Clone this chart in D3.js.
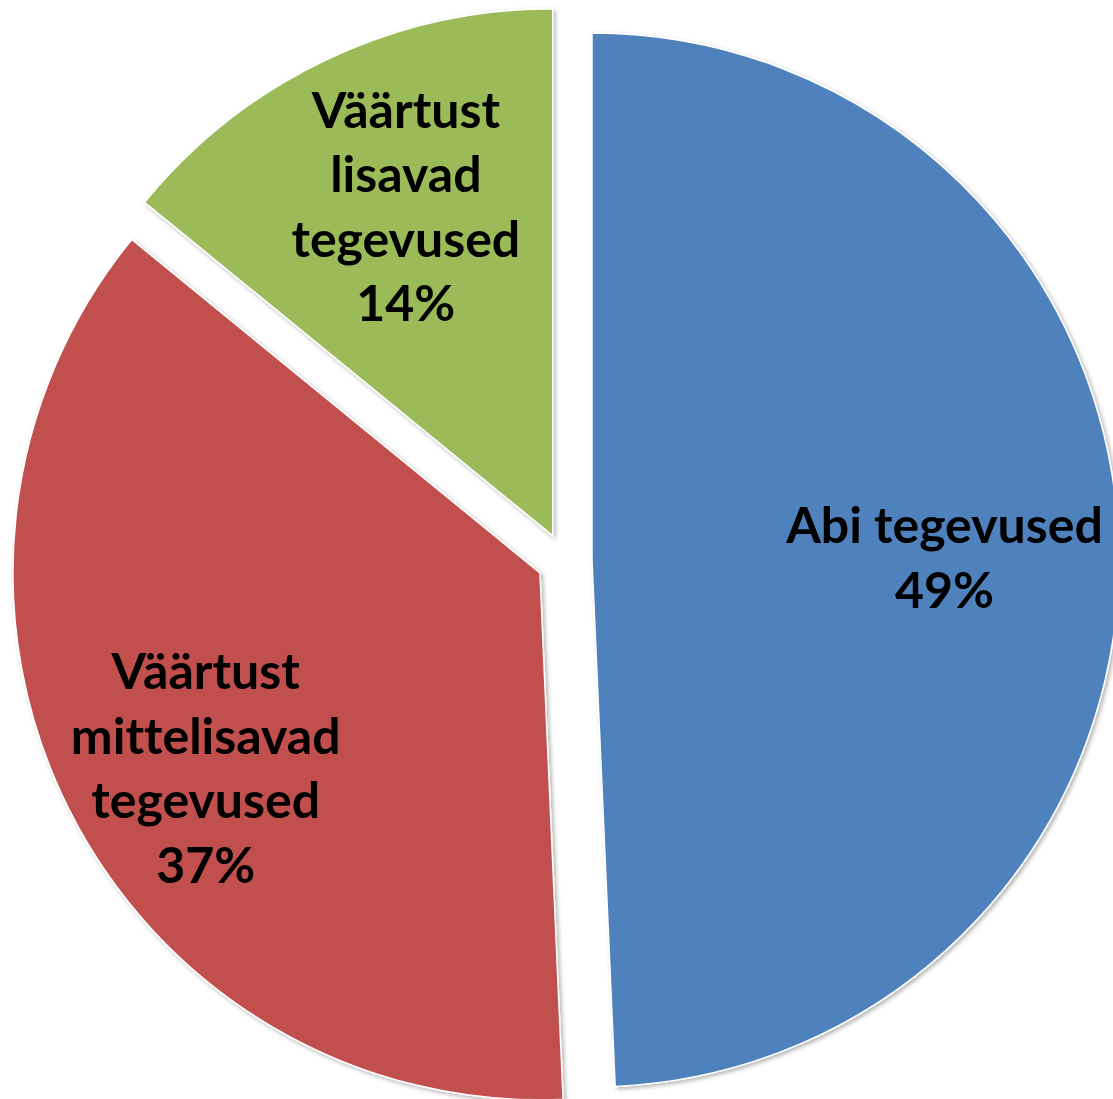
<!DOCTYPE html>
<html>
<head>
<meta charset="utf-8">
<script src="https://cdn.jsdelivr.net/npm/d3@7"></script>
<style>
  html, body { margin: 0; padding: 0; background: #ffffff; }
  svg { display: block; }
  text { font-variant-ligatures: none; font-feature-settings: "liga" 0, "clig" 0; }
</style>
</head>
<body>
<svg id="chart" width="1113" height="1099"></svg>
<script>
// ---- data ----
const categories = ["Abi tegevused", "Väärtust mittelisavad tegevused", "Väärtust lisavad tegevused"];
const values = [49.3, 36.6, 14.1];
const percentLabels = ["49%", "37%", "14%"];
const nameLines = [
  ["Abi tegevused"],
  ["Väärtust", "mittelisavad", "tegevused"],
  ["Väärtust", "lisavad", "tegevused"]
];
const colors = ["#4F81BD", "#C0504D", "#9BBB59"];

// ---- layout ----
const W = 1113, H = 1099;
const cx = 564.5, cy = 560.5, R = 527, explode = 27.5;
const labelFactor = [0.669, 0.735, 0.69];
const labelNudge = [[0, 6], [12, 22], [9, 0]];
const fontSize = 50, lineH = 64.5;

const svg = d3.select("#chart");
const defs = svg.append("defs");
const f = defs.append("filter").attr("id", "shadow")
  .attr("x", "-10%").attr("y", "-10%").attr("width", "120%").attr("height", "120%");
f.append("feDropShadow").attr("dx", 2).attr("dy", 2).attr("stdDeviation", 2)
  .attr("flood-color", "#000").attr("flood-opacity", 0.3);

const pie = d3.pie().sort(null).value(d => d).startAngle(0).endAngle(2 * Math.PI);
const arcs = pie(values);
const arc = d3.arc().innerRadius(0).outerRadius(R);

const g = svg.append("g").attr("transform", `translate(${cx},${cy})`);

const slices = g.selectAll("g.slice").data(arcs).enter().append("g")
  .attr("class", "slice")
  .attr("transform", d => {
    const a = (d.startAngle + d.endAngle) / 2;
    return `translate(${explode * Math.sin(a)},${-explode * Math.cos(a)})`;
  });

slices.append("path")
  .attr("d", arc)
  .attr("fill", (d, i) => colors[i])
  .attr("stroke", "#ffffff")
  .attr("stroke-width", 1.5)
  .attr("stroke-linejoin", "miter")
  .attr("filter", "url(#shadow)");

slices.each(function(d, i) {
  const a = (d.startAngle + d.endAngle) / 2;
  const r = R * labelFactor[i];
  const x = r * Math.sin(a) + labelNudge[i][0];
  const y = -r * Math.cos(a) + labelNudge[i][1];
  const lines = nameLines[i].concat([percentLabels[i]]);
  const t = d3.select(this).append("text")
    .attr("text-anchor", "middle")
    .attr("font-family", "Lato, 'Open Sans', sans-serif")
    .attr("font-weight", "bold")
    .attr("font-size", fontSize)
    .attr("fill", "#000");
  const n = lines.length;
  lines.forEach((ln, k) => {
    t.append("tspan")
      .attr("x", x)
      .attr("y", y + (k - (n - 1) / 2) * lineH)
      .attr("dy", "0.35em")
      .text(ln);
  });
});
</script>
</body>
</html>
